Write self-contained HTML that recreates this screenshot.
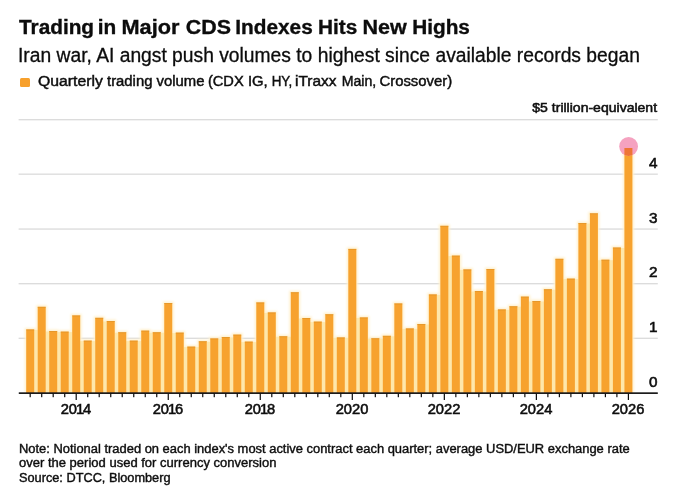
<!DOCTYPE html>
<html><head><meta charset="utf-8"><title>Trading in Major CDS Indexes Hits New Highs</title>
<style>
html,body{margin:0;padding:0;background:#fff;}
body{width:700px;height:491px;position:relative;overflow:hidden;font-family:"Liberation Sans",Arial,Helvetica,sans-serif;color:#0c0c0c;}
.t{position:absolute;white-space:nowrap;transform-origin:0 0;}
.w{position:relative;}
.t,.xl,.yl,#note{filter:blur(0.35px);}
.m{-webkit-text-stroke:0.55px #111;}
#title{left:18.7px;top:13.6px;font-size:20.7px;font-weight:bold;line-height:26px;transform:scaleX(1.0045);-webkit-text-stroke:0.35px #0c0c0c;}
#sub{left:18.1px;top:41.8px;font-size:19.4px;line-height:26px;transform:scaleX(0.993);-webkit-text-stroke:0.3px #0c0c0c;}
#leg{left:38.3px;top:72.1px;font-size:14px;line-height:18px;transform:scaleX(1.062);-webkit-text-stroke:0.45px #111;}
#sq{position:absolute;left:19.7px;top:77.7px;width:10px;height:9.6px;background:#f7a02c;border-radius:1.5px;filter:blur(0.4px);}
#unit{right:43.4px;top:99.4px;font-size:13.5px;line-height:18px;text-align:right;transform-origin:100% 0;transform:scaleX(1.039);}
.xl{position:absolute;top:400.1px;width:60px;text-align:center;font-size:14px;line-height:18px;transform:scaleX(1.05);}
.xl i{font-style:normal;margin:0 -1.0px;}
.yl{position:absolute;left:600.4px;width:57.5px;text-align:right;font-size:13.9px;line-height:16px;transform-origin:100% 0;transform:scaleX(1.1);}
#note{position:absolute;left:18.6px;top:441.5px;font-size:12.3px;line-height:14.55px;white-space:nowrap;-webkit-text-stroke:0.4px #111;}
#note div{transform-origin:0 0;height:14.55px;}
</style></head><body>
<svg width="700" height="491" viewBox="0 0 700 491" style="position:absolute;left:0;top:0">
<defs><filter id="bl" x="-5%" y="-5%" width="110%" height="110%"><feGaussianBlur stdDeviation="0.45"/></filter><filter id="bl2" x="-5%" y="-5%" width="110%" height="110%"><feGaussianBlur stdDeviation="0.8"/></filter><clipPath id="cc"><circle cx="628.6" cy="146.5" r="9.4"/></clipPath></defs>
<g filter="url(#bl)">
<rect x="18.6" y="119.2" width="639.2" height="1.1" fill="#d4d4d4"/>
<rect x="18.6" y="173.6" width="639.2" height="1.1" fill="#d4d4d4"/>
<rect x="18.6" y="228.5" width="639.2" height="1.1" fill="#d4d4d4"/>
<rect x="18.6" y="283.2" width="639.2" height="1.1" fill="#d4d4d4"/>
<rect x="18.6" y="337.7" width="639.2" height="1.1" fill="#d4d4d4"/>
</g>
<g filter="url(#bl2)">
<rect x="24.70" y="327.9" width="11.00" height="65.1" fill="#fff1cf"/>
<rect x="36.20" y="305.3" width="11.00" height="87.7" fill="#fff1cf"/>
<rect x="47.71" y="329.5" width="11.00" height="63.5" fill="#fff1cf"/>
<rect x="59.21" y="330.1" width="11.00" height="62.9" fill="#fff1cf"/>
<rect x="70.72" y="313.9" width="11.00" height="79.1" fill="#fff1cf"/>
<rect x="82.22" y="339.1" width="11.00" height="53.9" fill="#fff1cf"/>
<rect x="93.72" y="316.3" width="11.00" height="76.7" fill="#fff1cf"/>
<rect x="105.23" y="319.5" width="11.00" height="73.5" fill="#fff1cf"/>
<rect x="116.73" y="330.7" width="11.00" height="62.3" fill="#fff1cf"/>
<rect x="128.24" y="339.1" width="11.00" height="53.9" fill="#fff1cf"/>
<rect x="139.74" y="329.1" width="11.00" height="63.9" fill="#fff1cf"/>
<rect x="151.24" y="330.7" width="11.00" height="62.3" fill="#fff1cf"/>
<rect x="162.75" y="301.5" width="11.00" height="91.5" fill="#fff1cf"/>
<rect x="174.25" y="331.1" width="11.00" height="61.9" fill="#fff1cf"/>
<rect x="185.76" y="345.1" width="11.00" height="47.9" fill="#fff1cf"/>
<rect x="197.26" y="339.7" width="11.00" height="53.3" fill="#fff1cf"/>
<rect x="208.76" y="336.9" width="11.00" height="56.1" fill="#fff1cf"/>
<rect x="220.27" y="335.5" width="11.00" height="57.5" fill="#fff1cf"/>
<rect x="231.77" y="333.1" width="11.00" height="59.9" fill="#fff1cf"/>
<rect x="243.28" y="340.1" width="11.00" height="52.9" fill="#fff1cf"/>
<rect x="254.78" y="300.9" width="11.00" height="92.1" fill="#fff1cf"/>
<rect x="266.28" y="310.9" width="11.00" height="82.1" fill="#fff1cf"/>
<rect x="277.79" y="334.7" width="11.00" height="58.3" fill="#fff1cf"/>
<rect x="289.29" y="290.7" width="11.00" height="102.3" fill="#fff1cf"/>
<rect x="300.80" y="316.5" width="11.00" height="76.5" fill="#fff1cf"/>
<rect x="312.30" y="320.1" width="11.00" height="72.9" fill="#fff1cf"/>
<rect x="323.80" y="312.7" width="11.00" height="80.3" fill="#fff1cf"/>
<rect x="335.31" y="335.9" width="11.00" height="57.1" fill="#fff1cf"/>
<rect x="346.81" y="247.4" width="11.00" height="145.6" fill="#fff1cf"/>
<rect x="358.32" y="315.9" width="11.00" height="77.1" fill="#fff1cf"/>
<rect x="369.82" y="336.7" width="11.00" height="56.3" fill="#fff1cf"/>
<rect x="381.32" y="334.3" width="11.00" height="58.7" fill="#fff1cf"/>
<rect x="392.83" y="301.9" width="11.00" height="91.1" fill="#fff1cf"/>
<rect x="404.33" y="326.9" width="11.00" height="66.1" fill="#fff1cf"/>
<rect x="415.84" y="322.5" width="11.00" height="70.5" fill="#fff1cf"/>
<rect x="427.34" y="292.9" width="11.00" height="100.1" fill="#fff1cf"/>
<rect x="438.84" y="224.3" width="11.00" height="168.7" fill="#fff1cf"/>
<rect x="450.35" y="254.1" width="11.00" height="138.9" fill="#fff1cf"/>
<rect x="461.85" y="267.9" width="11.00" height="125.1" fill="#fff1cf"/>
<rect x="473.36" y="289.5" width="11.00" height="103.5" fill="#fff1cf"/>
<rect x="484.86" y="267.5" width="11.00" height="125.5" fill="#fff1cf"/>
<rect x="496.36" y="307.9" width="11.00" height="85.1" fill="#fff1cf"/>
<rect x="507.87" y="304.7" width="11.00" height="88.3" fill="#fff1cf"/>
<rect x="519.37" y="295.1" width="11.00" height="97.9" fill="#fff1cf"/>
<rect x="530.88" y="299.5" width="11.00" height="93.5" fill="#fff1cf"/>
<rect x="542.38" y="287.7" width="11.00" height="105.3" fill="#fff1cf"/>
<rect x="553.88" y="257.3" width="11.00" height="135.7" fill="#fff1cf"/>
<rect x="565.39" y="277.1" width="11.00" height="115.9" fill="#fff1cf"/>
<rect x="576.89" y="221.5" width="11.00" height="171.5" fill="#fff1cf"/>
<rect x="588.40" y="211.8" width="11.00" height="181.2" fill="#fff1cf"/>
<rect x="599.90" y="258.2" width="11.00" height="134.8" fill="#fff1cf"/>
<rect x="611.40" y="246.0" width="11.00" height="147.0" fill="#fff1cf"/>
<rect x="622.91" y="146.5" width="11.00" height="246.5" fill="#fff1cf"/>
</g>
<g filter="url(#bl)">
<rect x="34.00" y="329.9" width="3.90" height="63.1" fill="#fee7aa"/>
<rect x="45.50" y="331.5" width="3.90" height="61.5" fill="#fee7aa"/>
<rect x="57.01" y="332.1" width="3.90" height="60.9" fill="#fee7aa"/>
<rect x="68.51" y="332.1" width="3.90" height="60.9" fill="#fee7aa"/>
<rect x="80.02" y="341.1" width="3.90" height="51.9" fill="#fee7aa"/>
<rect x="91.52" y="341.1" width="3.90" height="51.9" fill="#fee7aa"/>
<rect x="103.02" y="321.5" width="3.90" height="71.5" fill="#fee7aa"/>
<rect x="114.53" y="332.7" width="3.90" height="60.3" fill="#fee7aa"/>
<rect x="126.03" y="341.1" width="3.90" height="51.9" fill="#fee7aa"/>
<rect x="137.54" y="341.1" width="3.90" height="51.9" fill="#fee7aa"/>
<rect x="149.04" y="332.7" width="3.90" height="60.3" fill="#fee7aa"/>
<rect x="160.54" y="332.7" width="3.90" height="60.3" fill="#fee7aa"/>
<rect x="172.05" y="333.1" width="3.90" height="59.9" fill="#fee7aa"/>
<rect x="183.55" y="347.1" width="3.90" height="45.9" fill="#fee7aa"/>
<rect x="195.06" y="347.1" width="3.90" height="45.9" fill="#fee7aa"/>
<rect x="206.56" y="341.7" width="3.90" height="51.3" fill="#fee7aa"/>
<rect x="218.06" y="338.9" width="3.90" height="54.1" fill="#fee7aa"/>
<rect x="229.57" y="337.5" width="3.90" height="55.5" fill="#fee7aa"/>
<rect x="241.07" y="342.1" width="3.90" height="50.9" fill="#fee7aa"/>
<rect x="252.58" y="342.1" width="3.90" height="50.9" fill="#fee7aa"/>
<rect x="264.08" y="312.9" width="3.90" height="80.1" fill="#fee7aa"/>
<rect x="275.58" y="336.7" width="3.90" height="56.3" fill="#fee7aa"/>
<rect x="287.09" y="336.7" width="3.90" height="56.3" fill="#fee7aa"/>
<rect x="298.59" y="318.5" width="3.90" height="74.5" fill="#fee7aa"/>
<rect x="310.10" y="322.1" width="3.90" height="70.9" fill="#fee7aa"/>
<rect x="321.60" y="322.1" width="3.90" height="70.9" fill="#fee7aa"/>
<rect x="333.10" y="337.9" width="3.90" height="55.1" fill="#fee7aa"/>
<rect x="344.61" y="337.9" width="3.90" height="55.1" fill="#fee7aa"/>
<rect x="356.11" y="317.9" width="3.90" height="75.1" fill="#fee7aa"/>
<rect x="367.62" y="338.7" width="3.90" height="54.3" fill="#fee7aa"/>
<rect x="379.12" y="338.7" width="3.90" height="54.3" fill="#fee7aa"/>
<rect x="390.62" y="336.3" width="3.90" height="56.7" fill="#fee7aa"/>
<rect x="402.13" y="328.9" width="3.90" height="64.1" fill="#fee7aa"/>
<rect x="413.63" y="328.9" width="3.90" height="64.1" fill="#fee7aa"/>
<rect x="425.14" y="324.5" width="3.90" height="68.5" fill="#fee7aa"/>
<rect x="436.64" y="294.9" width="3.90" height="98.1" fill="#fee7aa"/>
<rect x="448.14" y="256.1" width="3.90" height="136.9" fill="#fee7aa"/>
<rect x="459.65" y="269.9" width="3.90" height="123.1" fill="#fee7aa"/>
<rect x="471.15" y="291.5" width="3.90" height="101.5" fill="#fee7aa"/>
<rect x="482.66" y="291.5" width="3.90" height="101.5" fill="#fee7aa"/>
<rect x="494.16" y="309.9" width="3.90" height="83.1" fill="#fee7aa"/>
<rect x="505.66" y="309.9" width="3.90" height="83.1" fill="#fee7aa"/>
<rect x="517.17" y="306.7" width="3.90" height="86.3" fill="#fee7aa"/>
<rect x="528.67" y="301.5" width="3.90" height="91.5" fill="#fee7aa"/>
<rect x="540.18" y="301.5" width="3.90" height="91.5" fill="#fee7aa"/>
<rect x="551.68" y="289.7" width="3.90" height="103.3" fill="#fee7aa"/>
<rect x="563.18" y="279.1" width="3.90" height="113.9" fill="#fee7aa"/>
<rect x="574.69" y="279.1" width="3.90" height="113.9" fill="#fee7aa"/>
<rect x="586.19" y="223.5" width="3.90" height="169.5" fill="#fee7aa"/>
<rect x="597.70" y="260.2" width="3.90" height="132.8" fill="#fee7aa"/>
<rect x="609.20" y="260.2" width="3.90" height="132.8" fill="#fee7aa"/>
<rect x="620.70" y="248.0" width="3.90" height="145.0" fill="#fee7aa"/>
<rect x="26.20" y="329.4" width="8.0" height="63.6" fill="#f7a22e"/>
<rect x="26.20" y="329.4" width="8.0" height="1" fill="#d98f2c" fill-opacity="0.55"/>
<rect x="37.70" y="306.8" width="8.0" height="86.2" fill="#f7a22e"/>
<rect x="37.70" y="306.8" width="8.0" height="1" fill="#d98f2c" fill-opacity="0.55"/>
<rect x="49.21" y="331.0" width="8.0" height="62.0" fill="#f7a22e"/>
<rect x="49.21" y="331.0" width="8.0" height="1" fill="#d98f2c" fill-opacity="0.55"/>
<rect x="60.71" y="331.6" width="8.0" height="61.4" fill="#f7a22e"/>
<rect x="60.71" y="331.6" width="8.0" height="1" fill="#d98f2c" fill-opacity="0.55"/>
<rect x="72.22" y="315.4" width="8.0" height="77.6" fill="#f7a22e"/>
<rect x="72.22" y="315.4" width="8.0" height="1" fill="#d98f2c" fill-opacity="0.55"/>
<rect x="83.72" y="340.6" width="8.0" height="52.4" fill="#f7a22e"/>
<rect x="83.72" y="340.6" width="8.0" height="1" fill="#d98f2c" fill-opacity="0.55"/>
<rect x="95.22" y="317.8" width="8.0" height="75.2" fill="#f7a22e"/>
<rect x="95.22" y="317.8" width="8.0" height="1" fill="#d98f2c" fill-opacity="0.55"/>
<rect x="106.73" y="321.0" width="8.0" height="72.0" fill="#f7a22e"/>
<rect x="106.73" y="321.0" width="8.0" height="1" fill="#d98f2c" fill-opacity="0.55"/>
<rect x="118.23" y="332.2" width="8.0" height="60.8" fill="#f7a22e"/>
<rect x="118.23" y="332.2" width="8.0" height="1" fill="#d98f2c" fill-opacity="0.55"/>
<rect x="129.74" y="340.6" width="8.0" height="52.4" fill="#f7a22e"/>
<rect x="129.74" y="340.6" width="8.0" height="1" fill="#d98f2c" fill-opacity="0.55"/>
<rect x="141.24" y="330.6" width="8.0" height="62.4" fill="#f7a22e"/>
<rect x="141.24" y="330.6" width="8.0" height="1" fill="#d98f2c" fill-opacity="0.55"/>
<rect x="152.74" y="332.2" width="8.0" height="60.8" fill="#f7a22e"/>
<rect x="152.74" y="332.2" width="8.0" height="1" fill="#d98f2c" fill-opacity="0.55"/>
<rect x="164.25" y="303.0" width="8.0" height="90.0" fill="#f7a22e"/>
<rect x="164.25" y="303.0" width="8.0" height="1" fill="#d98f2c" fill-opacity="0.55"/>
<rect x="175.75" y="332.6" width="8.0" height="60.4" fill="#f7a22e"/>
<rect x="175.75" y="332.6" width="8.0" height="1" fill="#d98f2c" fill-opacity="0.55"/>
<rect x="187.26" y="346.6" width="8.0" height="46.4" fill="#f7a22e"/>
<rect x="187.26" y="346.6" width="8.0" height="1" fill="#d98f2c" fill-opacity="0.55"/>
<rect x="198.76" y="341.2" width="8.0" height="51.8" fill="#f7a22e"/>
<rect x="198.76" y="341.2" width="8.0" height="1" fill="#d98f2c" fill-opacity="0.55"/>
<rect x="210.26" y="338.4" width="8.0" height="54.6" fill="#f7a22e"/>
<rect x="210.26" y="338.4" width="8.0" height="1" fill="#d98f2c" fill-opacity="0.55"/>
<rect x="221.77" y="337.0" width="8.0" height="56.0" fill="#f7a22e"/>
<rect x="221.77" y="337.0" width="8.0" height="1" fill="#d98f2c" fill-opacity="0.55"/>
<rect x="233.27" y="334.6" width="8.0" height="58.4" fill="#f7a22e"/>
<rect x="233.27" y="334.6" width="8.0" height="1" fill="#d98f2c" fill-opacity="0.55"/>
<rect x="244.78" y="341.6" width="8.0" height="51.4" fill="#f7a22e"/>
<rect x="244.78" y="341.6" width="8.0" height="1" fill="#d98f2c" fill-opacity="0.55"/>
<rect x="256.28" y="302.4" width="8.0" height="90.6" fill="#f7a22e"/>
<rect x="256.28" y="302.4" width="8.0" height="1" fill="#d98f2c" fill-opacity="0.55"/>
<rect x="267.78" y="312.4" width="8.0" height="80.6" fill="#f7a22e"/>
<rect x="267.78" y="312.4" width="8.0" height="1" fill="#d98f2c" fill-opacity="0.55"/>
<rect x="279.29" y="336.2" width="8.0" height="56.8" fill="#f7a22e"/>
<rect x="279.29" y="336.2" width="8.0" height="1" fill="#d98f2c" fill-opacity="0.55"/>
<rect x="290.79" y="292.2" width="8.0" height="100.8" fill="#f7a22e"/>
<rect x="290.79" y="292.2" width="8.0" height="1" fill="#d98f2c" fill-opacity="0.55"/>
<rect x="302.30" y="318.0" width="8.0" height="75.0" fill="#f7a22e"/>
<rect x="302.30" y="318.0" width="8.0" height="1" fill="#d98f2c" fill-opacity="0.55"/>
<rect x="313.80" y="321.6" width="8.0" height="71.4" fill="#f7a22e"/>
<rect x="313.80" y="321.6" width="8.0" height="1" fill="#d98f2c" fill-opacity="0.55"/>
<rect x="325.30" y="314.2" width="8.0" height="78.8" fill="#f7a22e"/>
<rect x="325.30" y="314.2" width="8.0" height="1" fill="#d98f2c" fill-opacity="0.55"/>
<rect x="336.81" y="337.4" width="8.0" height="55.6" fill="#f7a22e"/>
<rect x="336.81" y="337.4" width="8.0" height="1" fill="#d98f2c" fill-opacity="0.55"/>
<rect x="348.31" y="248.9" width="8.0" height="144.1" fill="#f7a22e"/>
<rect x="348.31" y="248.9" width="8.0" height="1" fill="#d98f2c" fill-opacity="0.55"/>
<rect x="359.82" y="317.4" width="8.0" height="75.6" fill="#f7a22e"/>
<rect x="359.82" y="317.4" width="8.0" height="1" fill="#d98f2c" fill-opacity="0.55"/>
<rect x="371.32" y="338.2" width="8.0" height="54.8" fill="#f7a22e"/>
<rect x="371.32" y="338.2" width="8.0" height="1" fill="#d98f2c" fill-opacity="0.55"/>
<rect x="382.82" y="335.8" width="8.0" height="57.2" fill="#f7a22e"/>
<rect x="382.82" y="335.8" width="8.0" height="1" fill="#d98f2c" fill-opacity="0.55"/>
<rect x="394.33" y="303.4" width="8.0" height="89.6" fill="#f7a22e"/>
<rect x="394.33" y="303.4" width="8.0" height="1" fill="#d98f2c" fill-opacity="0.55"/>
<rect x="405.83" y="328.4" width="8.0" height="64.6" fill="#f7a22e"/>
<rect x="405.83" y="328.4" width="8.0" height="1" fill="#d98f2c" fill-opacity="0.55"/>
<rect x="417.34" y="324.0" width="8.0" height="69.0" fill="#f7a22e"/>
<rect x="417.34" y="324.0" width="8.0" height="1" fill="#d98f2c" fill-opacity="0.55"/>
<rect x="428.84" y="294.4" width="8.0" height="98.6" fill="#f7a22e"/>
<rect x="428.84" y="294.4" width="8.0" height="1" fill="#d98f2c" fill-opacity="0.55"/>
<rect x="440.34" y="225.8" width="8.0" height="167.2" fill="#f7a22e"/>
<rect x="440.34" y="225.8" width="8.0" height="1" fill="#d98f2c" fill-opacity="0.55"/>
<rect x="451.85" y="255.6" width="8.0" height="137.4" fill="#f7a22e"/>
<rect x="451.85" y="255.6" width="8.0" height="1" fill="#d98f2c" fill-opacity="0.55"/>
<rect x="463.35" y="269.4" width="8.0" height="123.6" fill="#f7a22e"/>
<rect x="463.35" y="269.4" width="8.0" height="1" fill="#d98f2c" fill-opacity="0.55"/>
<rect x="474.86" y="291.0" width="8.0" height="102.0" fill="#f7a22e"/>
<rect x="474.86" y="291.0" width="8.0" height="1" fill="#d98f2c" fill-opacity="0.55"/>
<rect x="486.36" y="269.0" width="8.0" height="124.0" fill="#f7a22e"/>
<rect x="486.36" y="269.0" width="8.0" height="1" fill="#d98f2c" fill-opacity="0.55"/>
<rect x="497.86" y="309.4" width="8.0" height="83.6" fill="#f7a22e"/>
<rect x="497.86" y="309.4" width="8.0" height="1" fill="#d98f2c" fill-opacity="0.55"/>
<rect x="509.37" y="306.2" width="8.0" height="86.8" fill="#f7a22e"/>
<rect x="509.37" y="306.2" width="8.0" height="1" fill="#d98f2c" fill-opacity="0.55"/>
<rect x="520.87" y="296.6" width="8.0" height="96.4" fill="#f7a22e"/>
<rect x="520.87" y="296.6" width="8.0" height="1" fill="#d98f2c" fill-opacity="0.55"/>
<rect x="532.38" y="301.0" width="8.0" height="92.0" fill="#f7a22e"/>
<rect x="532.38" y="301.0" width="8.0" height="1" fill="#d98f2c" fill-opacity="0.55"/>
<rect x="543.88" y="289.2" width="8.0" height="103.8" fill="#f7a22e"/>
<rect x="543.88" y="289.2" width="8.0" height="1" fill="#d98f2c" fill-opacity="0.55"/>
<rect x="555.38" y="258.8" width="8.0" height="134.2" fill="#f7a22e"/>
<rect x="555.38" y="258.8" width="8.0" height="1" fill="#d98f2c" fill-opacity="0.55"/>
<rect x="566.89" y="278.6" width="8.0" height="114.4" fill="#f7a22e"/>
<rect x="566.89" y="278.6" width="8.0" height="1" fill="#d98f2c" fill-opacity="0.55"/>
<rect x="578.39" y="223.0" width="8.0" height="170.0" fill="#f7a22e"/>
<rect x="578.39" y="223.0" width="8.0" height="1" fill="#d98f2c" fill-opacity="0.55"/>
<rect x="589.90" y="213.3" width="8.0" height="179.7" fill="#f7a22e"/>
<rect x="589.90" y="213.3" width="8.0" height="1" fill="#d98f2c" fill-opacity="0.55"/>
<rect x="601.40" y="259.7" width="8.0" height="133.3" fill="#f7a22e"/>
<rect x="601.40" y="259.7" width="8.0" height="1" fill="#d98f2c" fill-opacity="0.55"/>
<rect x="612.90" y="247.5" width="8.0" height="145.5" fill="#f7a22e"/>
<rect x="612.90" y="247.5" width="8.0" height="1" fill="#d98f2c" fill-opacity="0.55"/>
<rect x="624.41" y="148.0" width="8.0" height="245.0" fill="#f7a22e"/>
<rect x="624.41" y="148.0" width="8.0" height="1" fill="#d98f2c" fill-opacity="0.55"/>
<circle cx="628.6" cy="146.5" r="9.4" fill="#f5a2c0"/>
<rect x="624.41" y="148" width="8.0" height="20" fill="#ee7434" clip-path="url(#cc)"/>
<rect x="18.8" y="392.3" width="639" height="1.7" fill="#1c1c1c"/>
<rect x="29.60" y="393.5" width="1.2" height="3.7" fill="#111"/>
<rect x="41.10" y="393.5" width="1.2" height="3.7" fill="#111"/>
<rect x="52.61" y="393.5" width="1.2" height="3.7" fill="#111"/>
<rect x="64.11" y="393.5" width="1.2" height="3.7" fill="#111"/>
<rect x="75.62" y="393.5" width="1.2" height="6.5" fill="#111"/>
<rect x="87.12" y="393.5" width="1.2" height="3.7" fill="#111"/>
<rect x="98.62" y="393.5" width="1.2" height="3.7" fill="#111"/>
<rect x="110.13" y="393.5" width="1.2" height="3.7" fill="#111"/>
<rect x="121.63" y="393.5" width="1.2" height="3.7" fill="#111"/>
<rect x="133.14" y="393.5" width="1.2" height="3.7" fill="#111"/>
<rect x="144.64" y="393.5" width="1.2" height="3.7" fill="#111"/>
<rect x="156.14" y="393.5" width="1.2" height="3.7" fill="#111"/>
<rect x="167.65" y="393.5" width="1.2" height="6.5" fill="#111"/>
<rect x="179.15" y="393.5" width="1.2" height="3.7" fill="#111"/>
<rect x="190.66" y="393.5" width="1.2" height="3.7" fill="#111"/>
<rect x="202.16" y="393.5" width="1.2" height="3.7" fill="#111"/>
<rect x="213.66" y="393.5" width="1.2" height="3.7" fill="#111"/>
<rect x="225.17" y="393.5" width="1.2" height="3.7" fill="#111"/>
<rect x="236.67" y="393.5" width="1.2" height="3.7" fill="#111"/>
<rect x="248.18" y="393.5" width="1.2" height="3.7" fill="#111"/>
<rect x="259.68" y="393.5" width="1.2" height="6.5" fill="#111"/>
<rect x="271.18" y="393.5" width="1.2" height="3.7" fill="#111"/>
<rect x="282.69" y="393.5" width="1.2" height="3.7" fill="#111"/>
<rect x="294.19" y="393.5" width="1.2" height="3.7" fill="#111"/>
<rect x="305.70" y="393.5" width="1.2" height="3.7" fill="#111"/>
<rect x="317.20" y="393.5" width="1.2" height="3.7" fill="#111"/>
<rect x="328.70" y="393.5" width="1.2" height="3.7" fill="#111"/>
<rect x="340.21" y="393.5" width="1.2" height="3.7" fill="#111"/>
<rect x="351.71" y="393.5" width="1.2" height="6.5" fill="#111"/>
<rect x="363.22" y="393.5" width="1.2" height="3.7" fill="#111"/>
<rect x="374.72" y="393.5" width="1.2" height="3.7" fill="#111"/>
<rect x="386.22" y="393.5" width="1.2" height="3.7" fill="#111"/>
<rect x="397.73" y="393.5" width="1.2" height="3.7" fill="#111"/>
<rect x="409.23" y="393.5" width="1.2" height="3.7" fill="#111"/>
<rect x="420.74" y="393.5" width="1.2" height="3.7" fill="#111"/>
<rect x="432.24" y="393.5" width="1.2" height="3.7" fill="#111"/>
<rect x="443.74" y="393.5" width="1.2" height="6.5" fill="#111"/>
<rect x="455.25" y="393.5" width="1.2" height="3.7" fill="#111"/>
<rect x="466.75" y="393.5" width="1.2" height="3.7" fill="#111"/>
<rect x="478.26" y="393.5" width="1.2" height="3.7" fill="#111"/>
<rect x="489.76" y="393.5" width="1.2" height="3.7" fill="#111"/>
<rect x="501.26" y="393.5" width="1.2" height="3.7" fill="#111"/>
<rect x="512.77" y="393.5" width="1.2" height="3.7" fill="#111"/>
<rect x="524.27" y="393.5" width="1.2" height="3.7" fill="#111"/>
<rect x="535.78" y="393.5" width="1.2" height="6.5" fill="#111"/>
<rect x="547.28" y="393.5" width="1.2" height="3.7" fill="#111"/>
<rect x="558.78" y="393.5" width="1.2" height="3.7" fill="#111"/>
<rect x="570.29" y="393.5" width="1.2" height="3.7" fill="#111"/>
<rect x="581.79" y="393.5" width="1.2" height="3.7" fill="#111"/>
<rect x="593.30" y="393.5" width="1.2" height="3.7" fill="#111"/>
<rect x="604.80" y="393.5" width="1.2" height="3.7" fill="#111"/>
<rect x="616.30" y="393.5" width="1.2" height="3.7" fill="#111"/>
<rect x="627.81" y="393.5" width="1.2" height="6.5" fill="#111"/>
</g>
</svg>
<div class="t" id="title"><span class="w" style="left:0px">Trading</span> <span class="w" style="left:-2.2px">in</span> <span class="w" style="left:-2.6px;display:inline-block;transform-origin:0 50%;transform:scaleX(1.045)">Major</span> <span class="w" style="left:0px;display:inline-block;transform-origin:0 50%;transform:scaleX(1.03)">CDS</span> <span class="w" style="left:0.4px">Indexes</span> <span class="w" style="left:-0.1px">Hits</span> <span class="w" style="left:-0.4px;display:inline-block;transform-origin:0 50%;transform:scaleX(1.035)">New</span> <span class="w" style="left:0.5px">Highs</span></div>
<div class="t" id="sub">Iran war, AI angst push volumes to highest since available records began</div>
<div id="sq"></div>
<div class="t m" id="leg"><span class="w" style="left:0px;display:inline-block;transform-origin:0 50%;transform:scaleX(1.06)">Quarterly</span> <span class="w" style="left:3.5px">trading</span> <span class="w" style="left:3.5px">volume</span> <span class="w" style="left:2.8px;display:inline-block;transform-origin:0 50%;transform:scaleX(0.985)">(CDX</span> <span class="w" style="left:2.3px">IG,</span> <span class="w" style="left:1.8px;display:inline-block;transform-origin:0 50%;transform:scaleX(0.9)">HY,</span> <span class="w" style="left:-1.2px;display:inline-block;transform-origin:0 50%;transform:scaleX(1.04)">iTraxx</span> <span class="w" style="left:0.8px;display:inline-block;transform-origin:0 50%;transform:scaleX(0.95)">Main,</span> <span class="w" style="left:-1.4px">Crossover)</span></div>
<div class="t m" id="unit">$5 trillion-equivalent</div>
<div class="m">
<div class="xl" style="left:46.2px">20<i>1</i>4</div>
<div class="xl" style="left:138.2px">20<i>1</i>6</div>
<div class="xl" style="left:230.3px">20<i>1</i>8</div>
<div class="xl" style="left:322.3px">2020</div>
<div class="xl" style="left:414.3px">2022</div>
<div class="xl" style="left:506.4px">2024</div>
<div class="xl" style="left:598.4px">2026</div>

<div class="yl" style="top:154.7px">4</div>
<div class="yl" style="top:209.6px">3</div>
<div class="yl" style="top:264.3px">2</div>
<div class="yl" style="top:318.8px">1</div>
<div class="yl" style="top:373.5px">0</div>

</div>
<div id="note"><div style="transform:scaleX(1.0505)">Note: Notional traded on each index's most active contract each quarter; average USD/EUR exchange rate</div><div style="transform:scaleX(1.058)">over the period used for currency conversion</div><div style="transform:scaleX(1.036)">Source: DTCC, Bloomberg</div></div>
</body></html>
